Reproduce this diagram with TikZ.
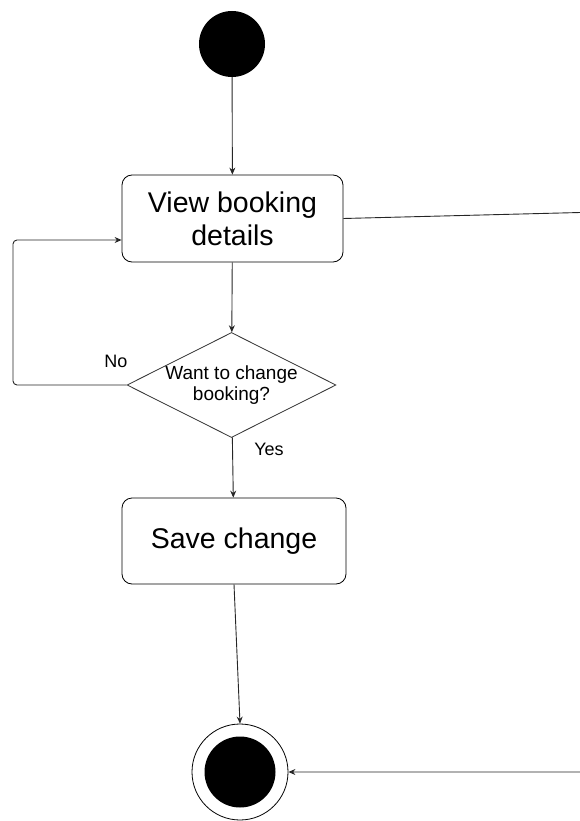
\documentclass[tikz,border=0pt]{standalone}
\usepackage{fontspec}
\setmainfont{Liberation Sans}
\usetikzlibrary{shapes.geometric,arrows.meta}
\begin{document}
\begin{tikzpicture}[x=1pt,y=-1pt]
    \clip (0,0) rectangle (580,821);

    \tikzstyle{initial}=[circle,fill=black,minimum size=66pt,inner sep=0pt]
    \tikzstyle{final}=[circle,draw=black,line width=0.8pt,minimum size=96pt,inner sep=0pt,
        path picture={\fill[black] (path picture bounding box.center) circle (35.5pt);}]
    \tikzstyle{action}=[draw=black,line width=0.8pt,rounded corners=10pt,align=center,
        font=\fontsize{28.5}{33}\selectfont]
    \tikzstyle{decision}=[diamond,draw=black!80,line width=0.8pt,shape aspect=2,inner sep=-2.5pt,
        minimum width=209pt,minimum height=105pt,align=center,font=\fontsize{19}{21}\selectfont]
    \tikzstyle{guard}=[font=\fontsize{18}{20}\selectfont]

    \node[initial]  (start) at (232,44) {};
    \node[action,minimum width=221pt,minimum height=87pt]  (view) at (232.5,218.5) {View booking\\ details};
    \node[decision]  (want) at (231.5,385) {Want to change\\ booking?};
    \node[action,minimum width=224pt,minimum height=86pt]  (save) at (234,541) {Save change};
    \node[final]  (end) at (240,772) {};

    \node[guard]  (no) at (116,361) {No};
    \node[guard]  (yes) at (269,449) {Yes};

    \coordinate (outtop) at (600,212);
    \coordinate (outbot) at (600,772);

    \pgfsetarrowsend{Stealth[length=7pt,width=6pt]}
    \tikzstyle{fwd} = [draw=black!85, line width=0.9pt]

          \draw [fwd] (start) -- (view);
          \draw [fwd] (view) -- (want);
          \draw [fwd,rounded corners=4pt] (want.west) -- (13,385) -- (13,240) -- ([yshift=-21.5pt]view.west);
          \draw [fwd] (want) -- (save);
          \draw [fwd] (save.south) -- (end.north);
          \draw [fwd] (view.east) -- (outtop) -- (outbot) -- (end.east);

\end{tikzpicture}
\end{document}
